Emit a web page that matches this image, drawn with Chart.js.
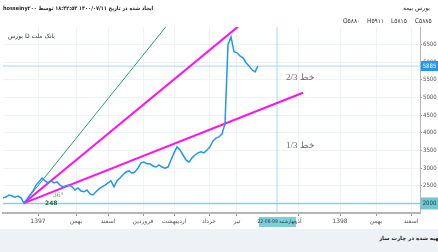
<!DOCTYPE html>
<html>
<head>
<meta charset="utf-8">
<script src="https://cdn.jsdelivr.net/npm/chart.js@4.4.0/dist/chart.umd.min.js"></script>
<style>
  html, body { margin: 0; padding: 0; background: #eef1f6; overflow: hidden; }
  #wrap { position: relative; width: 438px; height: 229px; background: #fff; }
  #footer { position: absolute; top: 235px; left: 381px; width: 60px; text-align: right; font: bold 5.5px 'DejaVu Sans'; color: #222; direction: rtl; white-space: nowrap; }
</style>
</head>
<body>
<div id="wrap"><canvas id="chart" width="438" height="229"></canvas></div>
<div id="footer">تهیه شده در چارت ساز</div>
<script>
// daily closes, one every 3 days
const dayStep = 3
const closes = [
  2160, 2180, 2240, 2210, 2180, 2210, 2160, 2010, 2130, 2240,
  2350, 2520, 2610, 2720, 2640, 2580, 2640, 2580, 2610, 2520,
  2470, 2500, 2520, 2470, 2380, 2440, 2350, 2330, 2380, 2270,
  2240, 2330, 2410, 2470, 2520, 2580, 2640, 2470, 2640, 2720,
  2810, 2890, 2920, 2860, 2890, 3000, 3150, 3170, 3120, 3120,
  3060, 3030, 3090, 3030, 3000, 3030, 3230, 3430, 3600, 3510,
  3370, 3230, 3170, 3290, 3370, 3430, 3460, 3430, 3510, 3600,
  3770, 3850, 3880, 3970, 4250, 6490, 6710, 6290, 6260, 6170,
  6120, 5980, 5890, 5780, 5720, 5885
]

// fan lines [day, value]
const fanOrigin = [21, 2010]
const fanGreenEnd = [163, 7000]
const fanUpperEnd = [235, 7000]
const fanLowerEnd = [300, 5130]

const supportLevel = 2000
const lastPrice = 5885
const crossDay = 274
const crossDate = 'چهارشنبه 99-08-22'

const xTickDays = [35, 73, 105, 140, 171, 206, 234, 295, 337, 373, 408]
const xTickLabels = ['1397', 'بهمن', 'اسفند', 'فروردین', 'اردیبهشت', 'خرداد', 'تیر', 'آذر', '1398', 'بهمن', 'اسفند']
const yTickValues = [2000, 2500, 3000, 3500, 4000, 4500, 5000, 5500, 6000, 6500]

const X_MAX = 417
const Y_MIN = 1730
const Y_MAX = 6990

const pt = (p) => ({ x: p[0], y: p[1] })
const seg = (a, b) => [pt(a), pt(b)]

const overlay = {
  id: 'overlay',
  afterDraw(chart) {
    const { ctx, chartArea, scales: { x, y } } = chart
    ctx.save()
    ctx.textBaseline = 'middle'

    // header
    ctx.fillStyle = '#222'
    ctx.font = 'bold 5.5px "DejaVu Sans Condensed", "DejaVu Sans"'
    ctx.textAlign = 'left'
    ctx.direction = 'rtl'
    ctx.fillText('ایجاد شده در تاریخ ۱۴۰۰/۰۷/۱۱ ۱۸:۴۲:۵۳ توسط hosseiny۲۰۰', 3, 9)
    ctx.font = '6px "DejaVu Sans"'
    ctx.textAlign = 'right'
    ctx.fillText('بورس بیمه', 430, 8)
    ctx.direction = 'ltr'
    ctx.fillStyle = '#333'
    ctx.font = '6.5px "DejaVu Sans Condensed", "DejaVu Sans"'
    ctx.textAlign = 'left'
    const ohlc = ['O۵۸۸۰', 'H۵۹۱۱', 'L۵۸۱۵', 'C۵۸۸۵']
    ohlc.forEach((t, i) => ctx.fillText(t, 343 + i * 24, 21))

    // symbol legend
    ctx.fillStyle = '#333'
    ctx.font = '6px "DejaVu Sans"'
    ctx.fillText('بورس D بانک ملت', 8, 36)

    // fan labels
    ctx.font = '6px "DejaVu Serif"'
    ctx.fillStyle = '#6b8f6b'
    ctx.fillText('36°', x.getPixelForValue(50), y.getPixelForValue(2220))
    ctx.fillStyle = '#1f6e3a'
    ctx.font = 'bold 6px "DejaVu Sans"'
    ctx.fillText('248', x.getPixelForValue(42), y.getPixelForValue(2000))

    ctx.fillStyle = '#666'
    ctx.font = '9px "Liberation Serif", "DejaVu Serif"'
    ctx.direction = 'rtl'
    ctx.textAlign = 'left'
    ctx.fillText('خط 2/3', x.getPixelForValue(283), y.getPixelForValue(5560))
    ctx.fillText('خط 1/3', x.getPixelForValue(283), y.getPixelForValue(3640))
    ctx.direction = 'ltr'

    // price boxes on right axis
    const r = chartArea.right
    ctx.font = '6px "DejaVu Sans Condensed", "DejaVu Sans"'
    ctx.textAlign = 'center'
    let py = y.getPixelForValue(lastPrice)
    ctx.fillStyle = '#2196f3'
    ctx.fillRect(r + 1, py - 5, 17, 10)
    ctx.fillStyle = '#fff'
    ctx.fillText(String(lastPrice), r + 9.5, py)
    py = y.getPixelForValue(supportLevel)
    ctx.fillStyle = '#72c6d2'
    ctx.fillRect(r + 1, py - 6, 17, 12)
    ctx.fillStyle = '#1d3b44'
    ctx.fillText(String(supportLevel), r + 9.5, py)

    // crosshair date box
    const cx = x.getPixelForValue(crossDay)
    ctx.fillStyle = '#7ecdd9'
    ctx.fillRect(cx - 18, chartArea.bottom + 4, 37, 10)
    ctx.fillStyle = '#1d3b44'
    ctx.font = '5px "DejaVu Sans Condensed", "DejaVu Sans"'
    ctx.direction = 'rtl'
    ctx.fillText(crossDate, cx, chartArea.bottom + 9)
    ctx.restore()
  }
}

new Chart(document.getElementById('chart'), {
  type: 'line',
  data: {
    datasets: [
      {
        data: closes.map((v, i) => ({ x: i * dayStep, y: v })),
        borderColor: '#2196f3',
        borderWidth: 1.5
      },
      { data: seg(fanOrigin, fanUpperEnd), borderColor: '#ff10f0', borderWidth: 2 },
      { data: seg(fanOrigin, fanLowerEnd), borderColor: '#ff10f0', borderWidth: 2 },
      { data: seg(fanOrigin, fanGreenEnd), borderColor: '#2a9d7c', borderWidth: 1 },
      { data: [{ x: 0, y: supportLevel }, { x: X_MAX, y: supportLevel }], borderColor: '#7fd4e0', borderWidth: 1.5 },
      { data: [{ x: 0, y: lastPrice }, { x: X_MAX, y: lastPrice }], borderColor: '#a6d8f2', borderWidth: 1 },
      { data: [{ x: crossDay, y: Y_MIN }, { x: crossDay, y: Y_MAX }], borderColor: '#a6d8f2', borderWidth: 1 }
    ]
  },
  options: {
    responsive: false,
    animation: false,
    devicePixelRatio: 1,
    layout: { padding: { top: 27, left: 3, right: 0, bottom: 0 } },
    elements: { point: { radius: 0 }, line: { tension: 0 } },
    plugins: { legend: { display: false }, tooltip: { enabled: false } },
    scales: {
      x: {
        type: 'linear',
        min: 0,
        max: X_MAX,
        afterBuildTicks: scale => {
          scale.ticks = xTickDays.map(v => ({ value: v }))
        },
        afterFit: scale => { scale.height = 16 },
        ticks: {
          autoSkip: false,
          maxRotation: 0,
          padding: 2,
          color: '#555',
          font: { family: 'DejaVu Sans', size: 6 },
          callback: v => xTickLabels[xTickDays.indexOf(v)] || ''
        },
        grid: { color: '#edf3f8', tickColor: '#999', tickLength: 3 },
        border: { color: '#b5b5b5', width: 2 }
      },
      y: {
        type: 'linear',
        position: 'right',
        min: Y_MIN,
        max: Y_MAX,
        afterBuildTicks: scale => {
          scale.ticks = yTickValues.map(v => ({ value: v }))
        },
        afterFit: scale => { scale.width = 18 },
        ticks: {
          padding: 1,
          color: '#555',
          font: { family: 'DejaVu Sans Condensed', size: 6 },
          callback: v => String(v)
        },
        grid: { color: '#edf3f8', tickColor: '#999', tickLength: 2 },
        border: { color: '#b5b5b5', width: 1 }
      }
    }
  },
  plugins: [overlay]
})
</script>
</body>
</html>
